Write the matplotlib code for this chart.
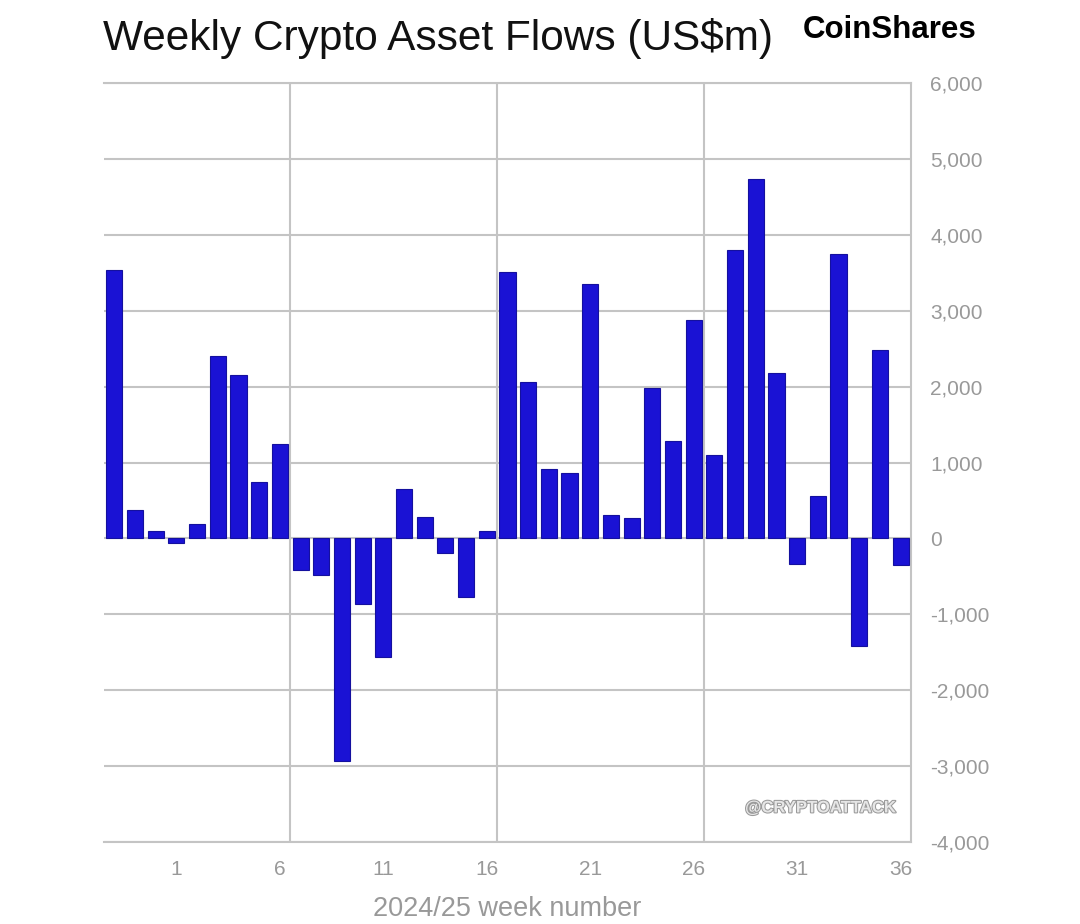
import matplotlib
matplotlib.use("Agg")
import matplotlib.pyplot as plt
import matplotlib.patheffects as pe
import numpy as np

plt.rcParams['font.family'] = ['Liberation Sans', 'DejaVu Sans']

# ---- data ----
weeks = [50, 51, 52] + list(range(1, 37))
flows = [3530, 375, 100, -55, 184, 2407, 2148, 742, 1247,
         -413, -487, -2938, -865, -1559, 646, 283, -193, -769, 101,
         3513, 2064, 909, 856, 3351, 303, 272, 1981, 1287, 2872,
         1094, 3794, 4730, 2178, -338, 562, 3742, -1419, 2477, -351]
tick_weeks = [1, 6, 11, 16, 21, 26, 31, 36]
vgrid_after_weeks = [6, 16, 26]
yticks = list(range(-4000, 6001, 1000))

title = "Weekly Crypto Asset Flows (US$m)"
xlabel = "2024/25 week number"
brand = "CoinShares"
watermark = "@CRYPTOATTACK"

# ---- figure ----
fig = plt.figure(figsize=(10.8, 9.24), dpi=100)
ax = fig.add_axes([0.0963, 0.0887, 0.8435 - 0.0963, 0.9102 - 0.0887])

x = np.arange(len(weeks))
grid_c = '#c4c4c4'
ax.bar(x, flows, width=0.78, color='#1a12d4', edgecolor='#14109e',
       linewidth=0.8, zorder=3)

ax.set_xlim(-0.5, len(weeks) - 0.5)
ax.set_ylim(-4000, 6000)
ax.set_yticks(yticks)
ax.set_yticklabels([f"{v:,}" for v in yticks])
ax.yaxis.tick_right()
ax.grid(axis='y', color=grid_c, linewidth=1.5, zorder=0)
for w in vgrid_after_weeks:
    ax.axvline(weeks.index(w) + 0.5, color=grid_c, linewidth=1.5, zorder=0)

tpos = [weeks.index(w) for w in tick_weeks]
ax.set_xticks(tpos)
ax.set_xticklabels([str(w) for w in tick_weeks])

ax.spines['left'].set_visible(False)
for s in ['top', 'right', 'bottom']:
    ax.spines[s].set_color(grid_c)
    ax.spines[s].set_linewidth(1.5)

ax.tick_params(axis='both', length=0, labelsize=15, labelcolor='#999999')
ax.tick_params(axis='y', pad=14)
ax.tick_params(axis='x', pad=13)
ax.set_xlabel(xlabel, fontsize=19.5, color='#999999', labelpad=12)

fig.text(0.095, 0.958, title, fontsize=30.5, color='#111111', ha='left', va='center')
fig.text(0.824, 0.968, brand, fontsize=22.5, color='#000000', ha='center',
         va='center', fontweight='bold')
ax.text(0.98, 0.045, watermark, transform=ax.transAxes, fontsize=12,
        fontweight='bold', color='#e6e6e6', ha='right', va='center', zorder=4,
        path_effects=[pe.withStroke(linewidth=1.5, foreground='#9a9a9a')])

fig.savefig("out.png", dpi=100, facecolor='white')
